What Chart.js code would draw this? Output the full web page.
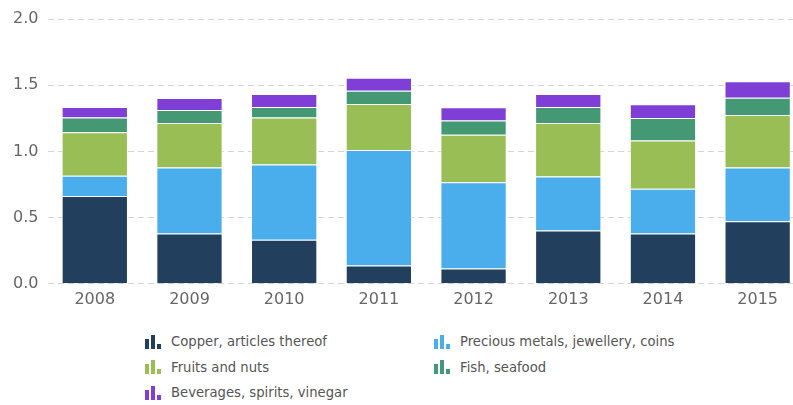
<!DOCTYPE html>
<html>
<head>
<meta charset="utf-8">
<script src="https://cdn.jsdelivr.net/npm/chart.js@4"></script>
<style>
  html, body { margin: 0; padding: 0; background: #fff; overflow: hidden; }
  #wrap { position: relative; width: 806px; height: 315px; }
  #legend {
    position: absolute; left: 145px; top: 331px;
    display: grid; grid-template-columns: 289px 300px; row-gap: 4px;
    font-family: "DejaVu Sans", sans-serif; font-size: 13.2px; color: #555;
  }
  .legend-item { display: flex; align-items: center; height: 21.5px; white-space: nowrap; }
  .legend-icon { display: inline-flex; align-items: flex-end; height: 14px; width: 18px; margin-right: 8px; }
  .legend-icon span { display: inline-block; width: 4px; margin-right: 2px; }
</style>
</head>
<body>
<div id="wrap"><canvas id="myChart" width="806" height="315"></canvas></div>
<div id="legend"></div>
<script>
let years = ['2008', '2009', '2010', '2011', '2012', '2013', '2014', '2015'];

let copper    = [0.664, 0.380, 0.332, 0.138, 0.116, 0.402, 0.380, 0.473];
let precious  = [0.153, 0.498, 0.569, 0.873, 0.651, 0.408, 0.337, 0.405];
let fruits    = [0.328, 0.337, 0.355, 0.347, 0.358, 0.405, 0.365, 0.397];
let fish      = [0.111, 0.098, 0.080, 0.101, 0.108, 0.121, 0.171, 0.131];
let beverages = [0.080, 0.091, 0.098, 0.098, 0.101, 0.098, 0.103, 0.124];

let yTicks = [0, 0.5, 1.0, 1.5, 2.0];

let seriesNames = [
    'Copper, articles thereof',
    'Precious metals, jewellery, coins',
    'Fruits and nuts',
    'Fish, seafood',
    'Beverages, spirits, vinegar'
];
let seriesData = [copper, precious, fruits, fish, beverages];
let colors = ['#233f5e', '#49aeeb', '#99be55', '#449873', '#7f3ed6'];

let datasets = [];
for (var i = 0; i < seriesNames.length; i++) {
    datasets.push({
        label: seriesNames[i],
        data: seriesData[i],
        backgroundColor: colors[i],
        borderColor: 'rgba(255,255,255,0.85)',
        borderWidth: 1,
        barPercentage: 0.7,
        categoryPercentage: 1.0
    });
}

var ctx = document.getElementById('myChart').getContext('2d');
var chart = new Chart(ctx, {
    type: 'bar',
    data: { labels: years, datasets: datasets },
    options: {
        responsive: false,
        animation: false,
        layout: { padding: { top: 19, right: 1, left: 4, bottom: 0 } },
        plugins: { legend: { display: false }, tooltip: { enabled: false } },
        scales: {
            x: {
                stacked: true,
                grid: { display: false, drawTicks: false },
                border: { display: false },
                ticks: { color: '#666', padding: 6, font: { family: 'DejaVu Sans', size: 16 } }
            },
            y: {
                stacked: true,
                min: 0,
                max: 2,
                afterBuildTicks: function(axis) {
                    axis.ticks = yTicks.map(function(v) { return { value: v }; });
                },
                grid: { color: '#d4d4d4', drawTicks: false, lineWidth: 1 },
                border: { display: true, color: 'rgba(0,0,0,0)', dash: [6, 4] },
                ticks: {
                    color: '#666',
                    padding: 9,
                    font: { family: 'DejaVu Sans', size: 16 },
                    callback: function(v) { return Number(v).toFixed(1); }
                }
            }
        }
    }
});

// legend with little bar icons
let legend = document.getElementById('legend');
let iconHeights = [10, 14, 5];
for (var j = 0; j < seriesNames.length; j++) {
    let item = document.createElement('div');
    item.setAttribute('class', 'legend-item');
    let icon = document.createElement('span');
    icon.setAttribute('class', 'legend-icon');
    for (var k = 0; k < iconHeights.length; k++) {
        let bar = document.createElement('span');
        bar.style.height = iconHeights[k] + 'px';
        bar.style.background = colors[j];
        icon.appendChild(bar);
    }
    item.appendChild(icon);
    let text = document.createElement('span');
    text.innerHTML = seriesNames[j];
    item.appendChild(text);
    legend.appendChild(item);
}
</script>
</body>
</html>
